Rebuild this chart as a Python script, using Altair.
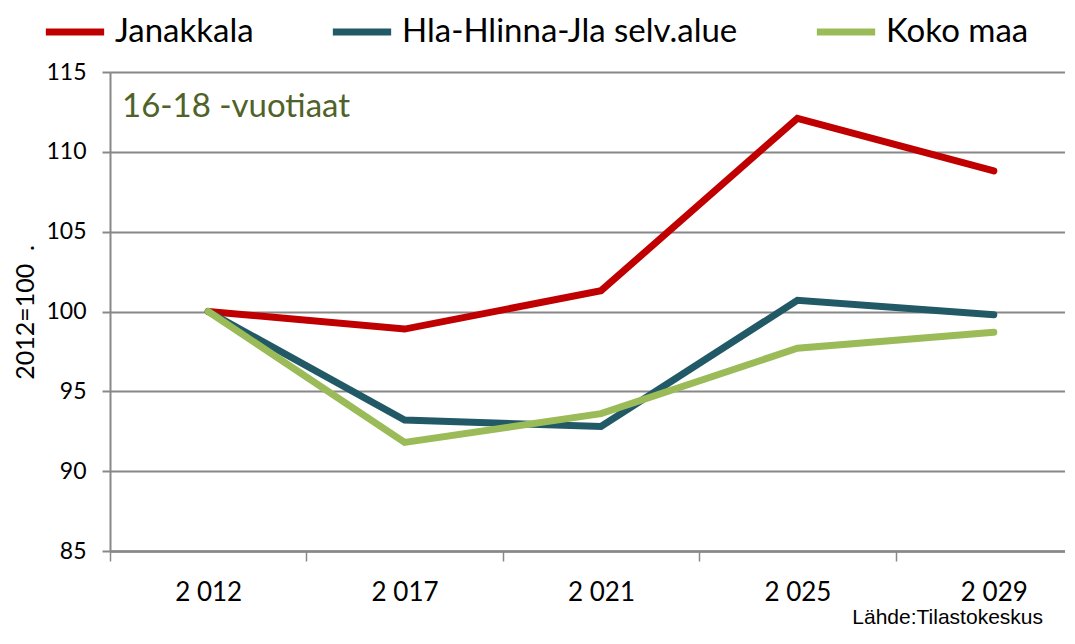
import altair as alt
import pandas as pd

years = ["2 012", "2 017", "2 021", "2 025", "2 029"]
series_names = ["Janakkala", "Hla-Hlinna-Jla selv.alue", "Koko maa"]
janakkala = [100.0, 98.9, 101.3, 112.1, 108.8]
hla_hlinna = [100.0, 93.2, 92.8, 100.7, 99.8]
koko_maa = [100.0, 91.8, 93.6, 97.7, 98.7]
colors = ["#C00000", "#215967", "#9BBB59"]
y_ticks = [85, 90, 95, 100, 105, 110, 115]
annotation_text = ["16-18 -vuotiaat"]
source_text = ["Lähde:Tilastokeskus"]
y_title = "2012=100\u00a0\u00a0."

rows = []
for name, vals in zip(series_names, [janakkala, hla_hlinna, koko_maa]):
    for yr, v in zip(years, vals):
        rows.append({"vuosi": yr, "sarja": name, "arvo": v})
df = pd.DataFrame(rows)

W, H = 955, 479
GRAY = "#888888"

lines = alt.Chart(df).mark_line(strokeWidth=7, strokeCap="round").encode(
    x=alt.X(
        "vuosi:N",
        sort=years,
        scale=alt.Scale(type="band", domain=years, range=[0, 982], paddingInner=0, paddingOuter=0),
        axis=alt.Axis(
            title=None, tickBand="extent", grid=False, labelAngle=0,
            domainColor=GRAY, domainWidth=2.5, tickColor=GRAY, tickWidth=1.5, tickSize=10,
            labelFont="Lato", labelFontSize=26, labelColor="#000000", labelPadding=18,
        ),
    ),
    y=alt.Y(
        "arvo:Q",
        scale=alt.Scale(domain=[85, 115], nice=False, zero=False),
        axis=alt.Axis(
            values=y_ticks, title=y_title, grid=True,
            gridColor=GRAY, gridWidth=2, domainColor=GRAY, domainWidth=2,
            tickColor=GRAY, tickWidth=2, tickSize=8,
            labelFont="Lato", labelFontSize=23, labelColor="#000000", labelPadding=16,
            titleFont="Lato", titleFontSize=25, titleFontWeight="normal", titleColor="#000000",
            titleAngle=270, titleX=-85, titleY=240, titleAlign="center", titleBaseline="middle",
        ),
    ),
    color=alt.Color(
        "sarja:N",
        sort=series_names,
        scale=alt.Scale(domain=series_names, range=colors),
        legend=alt.Legend(
            title=None, orient="none", legendX=-68, legendY=-73, direction="horizontal",
            symbolType="stroke", symbolSize=3400, symbolStrokeWidth=7,
            labelFont="Lato", labelFontSize=33, labelColor="#000000", labelOffset=7,
            columnPadding=64, labelLimit=600, padding=0,
        ),
    ),
)

ann = alt.Chart(pd.DataFrame({"t": annotation_text})).mark_text(
    align="left", baseline="alphabetic", font="Lato", fontSize=33, color="#4F6228"
).encode(x=alt.value(12), y=alt.value(45), text="t:N")

src = alt.Chart(pd.DataFrame({"t": source_text})).mark_text(
    align="right", baseline="alphabetic", font="Liberation Sans", fontSize=21, color="#000000"
).encode(x=alt.value(933), y=alt.value(552), text="t:N")

chart = alt.layer(lines, ann, src).properties(
    width=W, height=H,
    padding={"left": 102, "top": 64, "right": 0, "bottom": 79},
    autosize=alt.AutoSizeParams(type="none"),
).configure_view(stroke=None)

chart.save("out.html", embed_options={"renderer": "svg", "actions": False})
